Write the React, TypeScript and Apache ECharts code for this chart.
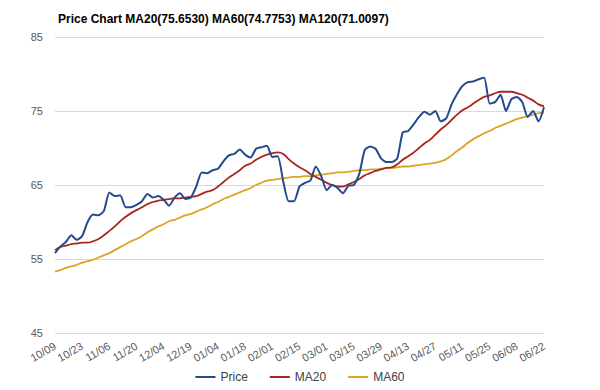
import React, { useEffect, useRef } from "react";
import * as echarts from "echarts";

const titleText = "Price Chart MA20(75.6530) MA60(74.7753) MA120(71.0097)";
const tickLabels = ["10/09","10/23","11/06","11/20","12/04","12/19","01/04","01/18","02/01","02/15","03/01","03/15","03/29","04/13","04/27","05/11","05/25","06/08","06/22"];
const yTicks = [45, 55, 65, 75, 85];

// one value every 2 trading days
const price = [
  55.8,56.7,57.3,58.2,57.6,58.1,60.0,61.0,60.9,61.5,
  64.0,63.5,63.6,62.0,62.0,62.3,62.8,63.8,63.3,63.5,
  63.0,62.2,63.3,63.9,63.1,63.3,64.8,66.7,66.6,67.0,
  67.2,68.2,69.0,69.2,69.8,69.1,68.7,69.9,70.1,70.3,
  68.8,68.9,65.5,62.8,62.8,64.8,65.3,65.6,67.5,66.2,
  64.3,65.0,64.6,63.9,64.9,65.0,66.5,69.7,70.2,69.9,
  68.6,68.1,68.1,68.6,72.1,72.3,73.2,74.2,74.9,74.5,
  75.0,73.6,74.0,75.9,77.3,78.4,78.9,79.0,79.3,79.5,
  76.0,76.2,77.2,75.0,76.6,76.9,76.2,74.2,75.0,73.6,
  75.5
];
const ma20 = [
  56.2,56.6,56.8,57.0,57.1,57.2,57.2,57.4,57.7,58.2,
  58.8,59.4,60.1,60.7,61.2,61.6,62.0,62.4,62.7,62.9,
  63.0,63.1,63.2,63.2,63.3,63.4,63.5,63.8,64.1,64.3,
  64.8,65.4,66.0,66.5,67.0,67.6,67.9,68.4,68.8,69.1,
  69.3,69.4,69.2,68.5,67.9,67.4,67.0,66.5,66.1,65.7,
  65.3,65.0,64.8,64.8,65.1,65.4,65.8,66.3,66.6,66.9,
  67.1,67.3,67.4,67.8,68.4,68.9,69.4,70.0,70.6,71.1,
  71.8,72.5,73.1,73.8,74.5,75.1,75.5,76.0,76.5,76.9,
  77.1,77.4,77.6,77.6,77.6,77.4,77.2,76.8,76.4,75.9,
  75.65
];
const ma60 = [
  53.3,53.5,53.8,54.0,54.2,54.5,54.7,54.9,55.2,55.5,
  55.8,56.2,56.6,57.0,57.4,57.7,58.1,58.6,59.0,59.4,
  59.7,60.1,60.3,60.6,60.9,61.1,61.4,61.7,62.0,62.4,
  62.7,63.1,63.4,63.7,64.0,64.3,64.6,65.0,65.3,65.6,
  65.7,65.8,65.9,66.0,66.1,66.1,66.2,66.2,66.3,66.4,
  66.5,66.6,66.7,66.7,66.8,66.9,67.0,67.0,67.1,67.1,
  67.2,67.3,67.3,67.4,67.5,67.5,67.6,67.7,67.8,67.9,
  68.0,68.2,68.5,69.0,69.6,70.1,70.7,71.2,71.6,72.0,
  72.3,72.7,73.0,73.3,73.6,73.9,74.1,74.3,74.5,74.7,
  74.8
];

const seriesNames = ["Price", "MA20", "MA60"];
const seriesColors = ["#24498c", "#a8261c", "#dca425"];

const FONT = "'Liberation Sans', Arial, sans-serif";

export default function App() {
  const ref = useRef<HTMLDivElement>(null);
  useEffect(() => {
    if (!ref.current) return;
    const chart = echarts.init(ref.current, undefined, { renderer: "svg" });
    const toPairs = (arr: number[]) => arr.map((v, i) => [i, v]);
    const all = [price, ma20, ma60];
    chart.setOption({
      animation: false,
      backgroundColor: "#ffffff",
      title: {
        text: titleText,
        left: 53,
        top: 8,
        textStyle: { fontFamily: FONT, fontSize: 12, fontWeight: "bold", color: "#000000" },
      },
      legend: {
        bottom: 2,
        left: "center",
        icon: "rect",
        itemWidth: 20,
        itemHeight: 2,
        itemGap: 22,
        textStyle: { fontFamily: FONT, fontSize: 12, color: "#404040" },
        data: seriesNames,
      },
      grid: { left: 55, right: 56, top: 37, bottom: 57 },
      xAxis: {
        type: "value",
        min: 0,
        max: price.length - 1,
        interval: 5,
        splitLine: { show: false },
        axisLine: { show: false },
        axisTick: { show: false },
        axisLabel: {
          rotate: 30,
          margin: 12,
          fontFamily: FONT,
          fontSize: 11,
          color: "#595959",
          formatter: (v: number) => tickLabels[Math.round(v / 5)] ?? "",
        },
      },
      yAxis: {
        type: "value",
        min: yTicks[0],
        max: yTicks[yTicks.length - 1],
        interval: 10,
        axisLine: { show: false },
        axisTick: { show: false },
        splitLine: { lineStyle: { color: "#d9d9d9", width: 1 } },
        axisLabel: { fontFamily: FONT, fontSize: 11, color: "#595959", margin: 12 },
      },
      series: seriesNames.map((name, k) => ({
        name,
        type: "line",
        data: toPairs(all[k]),
        showSymbol: false,
        smooth: k === 0 ? 0.2 : 0.5,
        color: seriesColors[k],
        lineStyle: { width: k === 0 ? 2 : 1.8, color: seriesColors[k] },
        z: 3 - k,
      })),
    });
    return () => chart.dispose();
  }, []);
  return (
    <div
      ref={ref}
      style={{ position: "fixed", left: 0, top: 0, width: 600, height: 390 }}
    />
  );
}
